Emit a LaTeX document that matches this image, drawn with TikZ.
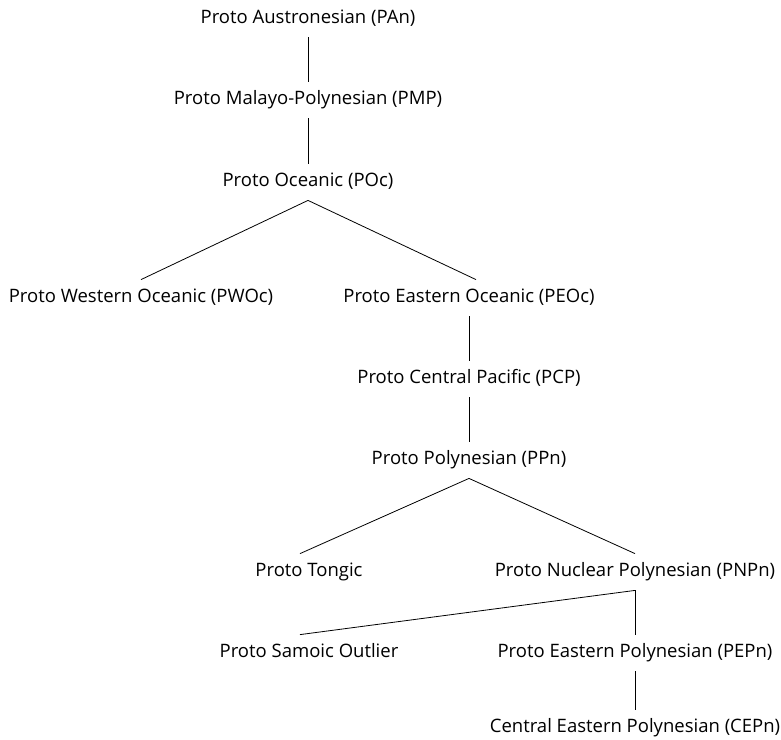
\documentclass[tikz,border=0pt]{standalone}
\usepackage{fontspec}
\setmainfont{Open Sans}
\usetikzlibrary{positioning}
\begin{document}
\begin{tikzpicture}[x=1pt, y=-1pt, line width=0.8pt]
	\tikzstyle{every node} = [font=\fontsize{18.5}{22}\selectfont, inner sep=0pt, minimum height=36pt, text height=13pt, text depth=4pt]
\useasboundingbox (0,0) rectangle (781,739);
\node (pan) at (308, 19) {Proto Austronesian (PAn)};
\node (pmp) at (308, 100) {Proto Malayo-Polynesian (PMP)};
\node (poc) at (308, 182) {Proto Oceanic (POc)};
\node (pwoc) at (141, 298) {Proto Western Oceanic (PWOc)};
\node (peoc) at (469, 298) {Proto Eastern Oceanic (PEOc)};
\node (pcp) at (469, 379) {Proto Central Pacific (PCP)};
\node (ppn) at (469, 460) {Proto Polynesian (PPn)};
\node (ptongic) at (309, 572) {Proto Tongic};
\node (pnpn) at (635, 572) {Proto Nuclear Polynesian (PNPn)};
\node (pso) at (309, 653) {Proto Samoic Outlier};
\node (pepn) at (635, 653) {Proto Eastern Polynesian (PEPn)};
\node (cepn) at (635, 728) {Central Eastern Polynesian (CEPn)};
	\path[draw] (pan) -- (pmp);
	\path[draw] (pmp) -- (poc);
	\path[draw] (poc.south) -- (pwoc.north);
	\path[draw] (poc.south) -- ([xshift=7]peoc.north);
	\path[draw] (peoc) -- (pcp);
	\path[draw] (pcp) -- (ppn);
	\path[draw] (ppn.south) -- ([xshift=-9]ptongic.north);
	\path[draw] (ppn.south) -- (pnpn.north);
	\path[draw] (pnpn.south) -- ([xshift=-9]pso.north);
	\path[draw] (pnpn.south) -- (pepn.north);
	\path[draw] (pepn) -- (cepn);
\end{tikzpicture}
\end{document}
